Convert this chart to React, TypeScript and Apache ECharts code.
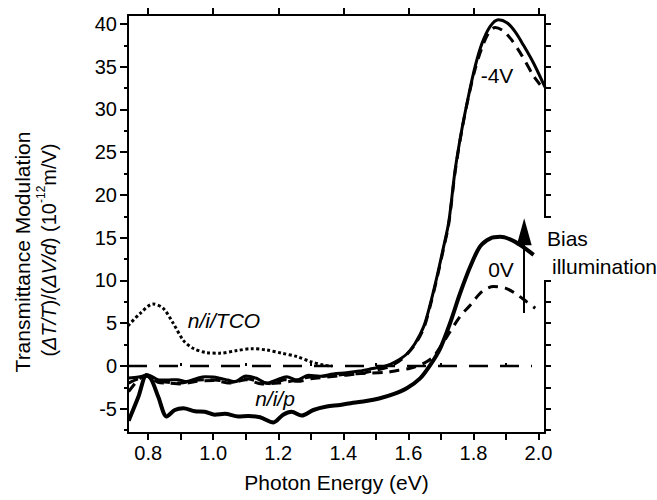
import React, { useEffect, useRef } from "react";
import * as echarts from "echarts";

const FONT = '"Liberation Sans", Arial, Helvetica, sans-serif';

// axis ranges
const X_MIN = 0.738;
const X_MAX = 2.02;
const Y_MIN = -7.84;
const Y_MAX = 41.05;

// ticks and labels
const X_TICKS = [0.8, 0.9, 1.0, 1.1, 1.2, 1.3, 1.4, 1.5, 1.6, 1.7, 1.8, 1.9, 2.0];
const X_LABELS = [0.8, 1.0, 1.2, 1.4, 1.6, 1.8, 2.0];
const X_TOP_MINOR = [0.9, 1.1, 1.3, 1.5, 1.7, 1.9];
const Y_LABELS = [-5, 0, 5, 10, 15, 20, 25, 30, 35, 40];
const Y_MINOR = [-7.5, -2.5, 2.5, 7.5, 12.5, 17.5, 22.5, 27.5, 32.5, 37.5];
const Y_RIGHT_TICKS = [-7.5, -5, -2.5, 0, 2.5, 5, 7.5, 10, 12.5, 15, 17.5, 20, 22.5, 25, 27.5, 30, 32.5, 35, 37.5, 40];

// -4V, solid
const S4_X = [0.74, 0.77, 0.8, 0.83, 0.857, 0.89, 0.918, 0.95, 0.975, 1.0, 1.02, 1.045, 1.067, 1.1, 1.133, 1.164, 1.195, 1.226, 1.257, 1.292, 1.328, 1.369, 1.41, 1.45, 1.49, 1.53, 1.56, 1.595, 1.62, 1.647, 1.667, 1.687, 1.708, 1.724, 1.744, 1.764, 1.785, 1.805, 1.826, 1.851, 1.877, 1.903, 1.928, 1.954, 1.985, 2.02];
const S4_Y = [-1.4, -1.3, -1.05, -1.6, -1.64, -1.6, -1.83, -1.45, -1.25, -1.3, -1.44, -1.65, -1.83, -1.17, -1.44, -2.03, -1.64, -1.25, -1.64, -1.1, -1.2, -0.94, -0.8, -0.6, -0.3, 0.0, 0.5, 1.4, 2.6, 4.6, 7.2, 10.3, 13.9, 16.8, 23.0, 27.6, 31.6, 35.0, 37.7, 39.7, 40.5, 40.15, 39.1, 37.5, 35.4, 32.6];

// -4V, dashed
const D4_X = [0.74, 0.77, 0.8, 0.83, 0.86, 0.9, 0.94, 0.98, 1.02, 1.06, 1.1, 1.14, 1.18, 1.22, 1.26, 1.3, 1.35, 1.4, 1.45, 1.5, 1.54, 1.58, 1.62, 1.647, 1.667, 1.687, 1.708, 1.724, 1.744, 1.764, 1.785, 1.805, 1.826, 1.846, 1.867, 1.892, 1.918, 1.949, 1.985, 2.005];
const D4_Y = [-2.0, -1.5, -1.2, -1.8, -1.9, -2.0, -1.7, -1.6, -1.7, -1.9, -1.5, -1.8, -2.1, -1.6, -1.8, -1.5, -1.3, -1.1, -0.9, -0.5, -0.1, 0.8, 2.5, 4.4, 7.0, 10.1, 13.7, 16.6, 22.8, 27.5, 31.5, 34.7, 37.2, 38.9, 39.6, 39.2, 38.1, 36.3, 33.9, 32.9];

// 0V, solid (n/i/p)
const S0_X = [0.74, 0.77, 0.795, 0.81, 0.831, 0.857, 0.882, 0.908, 0.944, 0.974, 1.005, 1.036, 1.077, 1.108, 1.144, 1.185, 1.215, 1.241, 1.272, 1.308, 1.349, 1.39, 1.43, 1.47, 1.51, 1.554, 1.595, 1.636, 1.667, 1.698, 1.728, 1.759, 1.79, 1.82, 1.851, 1.882, 1.913, 1.944, 1.985];
const S0_Y = [-6.4, -3.6, -1.05, -1.6, -3.6, -5.9, -5.15, -4.95, -5.3, -5.35, -5.7, -5.6, -5.9, -5.85, -6.0, -6.6, -5.7, -5.35, -5.8, -5.15, -4.75, -4.56, -4.3, -4.1, -3.8, -3.3, -2.6, -1.45, 0.1, 2.07, 5.0, 8.5, 11.6, 13.95, 14.9, 15.1, 14.8, 14.15, 13.0];

// 0V, dashed
const D0_X = [0.74, 0.77, 0.795, 0.83, 0.86, 0.9, 0.95, 1.0, 1.05, 1.1, 1.15, 1.2, 1.25, 1.287, 1.349, 1.41, 1.472, 1.533, 1.57, 1.605, 1.647, 1.677, 1.718, 1.759, 1.79, 1.826, 1.862, 1.898, 1.928, 1.964, 1.99];
const D0_Y = [-3.0, -1.6, -1.1, -1.9, -2.0, -2.1, -1.8, -1.7, -2.0, -1.6, -2.1, -2.0, -1.7, -1.35, -1.17, -0.97, -0.86, -0.74, -0.5, -0.27, 0.3, 1.1, 3.4, 5.8, 7.1, 8.7, 9.3, 9.1, 8.5, 7.5, 6.75];

// n/i/TCO, dotted
const TCO_X = [0.738, 0.774, 0.815, 0.846, 0.877, 0.908, 0.938, 0.98, 1.02, 1.072, 1.118, 1.164, 1.21, 1.257, 1.3, 1.34, 1.365];
const TCO_Y = [4.7, 6.1, 7.25, 6.75, 5.0, 3.0, 2.07, 1.56, 1.5, 1.8, 2.02, 1.87, 1.5, 1.1, 0.5, 0.1, 0.0];

// zero reference line
const ZERO_X = [0.738, 1.98];
const ZERO_Y = [0, 0];

// bias illumination arrow
const ARROW_X = 1.956;
const ARROW_Y = [6.2, 15.7];

const pairs = (xs: number[], ys: number[]) => xs.map((x, i) => [x, ys[i]]);

export default function App() {
  const ref = useRef<HTMLDivElement>(null);

  useEffect(() => {
    if (!ref.current) return;
    const chart = echarts.init(ref.current, undefined, { renderer: "svg" });

    const black = "#000";
    const axisLine = { show: true, onZero: false, lineStyle: { color: black, width: 2 } };
    const textBase = { fontFamily: FONT, fill: black };

    const lineSeries = (data: number[][], type: any, width: number, dash?: number[], z = 2) => ({
      type: "line",
      data,
      showSymbol: false,
      symbol: "none",
      smooth: 0.3,
      z,
      lineStyle: {
        color: black,
        width,
        type: dash ? dash : type,
        cap: "butt",
      },
      silent: true,
    });

    chart.setOption({
      animation: false,
      backgroundColor: "#fff",
      grid: { left: 128, right: 112, top: 15, bottom: 67, containLabel: false },
      xAxis: [
        {
          type: "value",
          position: "bottom",
          min: X_MIN,
          max: X_MAX,
          axisLine,
          axisTick: { show: true, customValues: X_TICKS, length: 7, lineStyle: { color: black, width: 2 } },
          axisLabel: {
            customValues: X_LABELS,
            formatter: (v: number) => v.toFixed(1),
            fontSize: 20,
            fontFamily: FONT,
            color: black,
            margin: 10,
          },
          splitLine: { show: false },
          name: "Photon Energy (eV)",
          nameLocation: "middle",
          nameGap: 39,
          nameTextStyle: { fontSize: 21, fontFamily: FONT, color: black },
        },
        {
          type: "value",
          position: "top",
          min: X_MIN,
          max: X_MAX,
          axisLine,
          axisTick: { show: true, customValues: X_LABELS, length: 7, lineStyle: { color: black, width: 2 } },
          axisLabel: { show: false },
          splitLine: { show: false },
        },
        {
          type: "value",
          position: "top",
          min: X_MIN,
          max: X_MAX,
          axisLine: { show: false },
          axisTick: { show: true, customValues: X_TOP_MINOR, length: 3, lineStyle: { color: black, width: 2 } },
          axisLabel: { show: false },
          splitLine: { show: false },
        },
      ],
      yAxis: [
        {
          type: "value",
          position: "left",
          min: Y_MIN,
          max: Y_MAX,
          axisLine,
          axisTick: { show: true, customValues: Y_LABELS, length: 8, lineStyle: { color: black, width: 2 } },
          axisLabel: {
            customValues: Y_LABELS,
            fontSize: 20,
            fontFamily: FONT,
            color: black,
            margin: 11,
          },
          splitLine: { show: false },
        },
        {
          type: "value",
          position: "left",
          min: Y_MIN,
          max: Y_MAX,
          axisLine: { show: false },
          axisTick: { show: true, customValues: Y_MINOR, length: 4, lineStyle: { color: black, width: 2 } },
          axisLabel: { show: false },
          splitLine: { show: false },
        },
        {
          type: "value",
          position: "right",
          min: Y_MIN,
          max: Y_MAX,
          axisLine,
          axisTick: { show: true, customValues: Y_RIGHT_TICKS, length: 6, lineStyle: { color: black, width: 2 } },
          axisLabel: { show: false },
          splitLine: { show: false },
        },
      ],
      series: [
        {
          ...lineSeries(pairs(ZERO_X, ZERO_Y), "dashed", 2.5, [19, 12], 1),
          smooth: false,
          markLine: {
            silent: true,
            symbol: ["none", "triangle"],
            symbolSize: [15, 27],
            label: { show: false },
            lineStyle: { color: black, width: 2, type: "solid" },
            data: [[{ coord: [ARROW_X, ARROW_Y[0]] }, { coord: [ARROW_X, ARROW_Y[1]] }]],
          },
        },
        lineSeries(pairs(TCO_X, TCO_Y), "dotted", 3, [3, 2.5], 2),
        lineSeries(pairs(D0_X, D0_Y), "dashed", 3, [10, 7], 3),
        lineSeries(pairs(D4_X, D4_Y), "dashed", 3, [10, 7], 3),
        lineSeries(pairs(S0_X, S0_Y), "solid", 4, undefined, 4),
        lineSeries(pairs(S4_X, S4_Y), "solid", 3, undefined, 4),
      ],
      graphic: [
        {
          type: "rect",
          z: 100,
          shape: { x: 540, y: 218, width: 117, height: 62 },
          style: { fill: "#fff" },
        },
        {
          type: "text",
          z: 101,
          x: 22,
          y: 252,
          rotation: Math.PI / 2,
          style: {
            ...textBase,
            text: "Transmittance Modulation",
            fontSize: 21,
            textAlign: "center",
            textVerticalAlign: "middle",
          },
        },
        {
          type: "text",
          z: 101,
          x: 47,
          y: 250,
          rotation: Math.PI / 2,
          style: {
            ...textBase,
            text: "{n|(}{i|ΔT/T}{n|)/(}{i|ΔV/d}{n|) (10}{s|-12}{n|m/V)}",
            textAlign: "center",
            textVerticalAlign: "middle",
            rich: {
              n: { fontSize: 20, fontFamily: FONT, fill: black, verticalAlign: "bottom", lineHeight: 24 },
              i: { fontSize: 20, fontFamily: FONT, fill: black, fontStyle: "italic", verticalAlign: "bottom", lineHeight: 24 },
              s: { fontSize: 12, fontFamily: FONT, fill: black, verticalAlign: "top", lineHeight: 24 },
            },
          },
        },
        {
          type: "text", z: 101, x: 497, y: 75,
          style: { ...textBase, text: "-4V", fontSize: 21, textAlign: "center", textVerticalAlign: "middle" },
        },
        {
          type: "text", z: 101, x: 501, y: 269,
          style: { ...textBase, text: "0V", fontSize: 21, textAlign: "center", textVerticalAlign: "middle" },
        },
        {
          type: "text", z: 101, x: 224, y: 320,
          style: { ...textBase, text: "n/i/TCO", fontSize: 21, fontStyle: "italic", textAlign: "center", textVerticalAlign: "middle" },
        },
        {
          type: "text", z: 101, x: 275, y: 398,
          style: { ...textBase, text: "n/i/p", fontSize: 21, fontStyle: "italic", textAlign: "center", textVerticalAlign: "middle" },
        },
        {
          type: "text", z: 101, x: 547, y: 238,
          style: { ...textBase, text: "Bias", fontSize: 21, textAlign: "left", textVerticalAlign: "middle" },
        },
        {
          type: "text", z: 101, x: 552, y: 266,
          style: { ...textBase, text: "illumination", fontSize: 21, textAlign: "left", textVerticalAlign: "middle" },
        },
      ],
    });

    return () => chart.dispose();
  }, []);

  return (
    <div
      ref={ref}
      style={{ position: "absolute", left: 0, top: 0, width: 657, height: 500, background: "#fff" }}
    />
  );
}
